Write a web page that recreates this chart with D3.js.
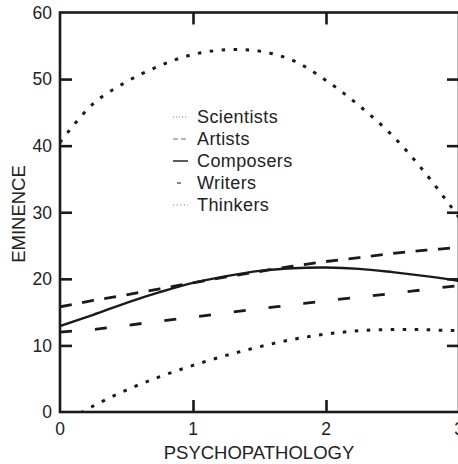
<!DOCTYPE html>
<html>
<head>
<meta charset="utf-8">
<script src="https://cdn.jsdelivr.net/npm/d3@7"></script>
<style>
  body { margin: 0; background: #fff; }
  svg { display: block; font-family: "Liberation Sans", Arial, sans-serif; }
</style>
</head>
<body>
<svg id="chart"></svg>
<script>
// psychopathology values where the curves were read
const xs = [0, 0.25, 0.5, 0.75, 1, 1.25, 1.5, 1.75, 2, 2.25, 2.5, 2.75, 3];

const scientists = [-2.0, 0.9, 3.3, 5.3, 7.0, 8.5, 9.8, 10.9, 11.7, 12.2, 12.4, 12.35, 12.2];
const artists    = [15.8, 16.75, 17.6, 18.5, 19.4, 20.3, 21.1, 21.9, 22.6, 23.2, 23.8, 24.3, 24.7];
const composers  = [12.9, 14.6, 16.4, 18.0, 19.4, 20.4, 21.2, 21.6, 21.7, 21.5, 21.0, 20.4, 19.7];
const writers    = [12.0, 12.4, 13.0, 13.65, 14.25, 14.9, 15.5, 16.1, 16.7, 17.25, 17.8, 18.4, 19.0];
const thinkers   = [40.5, 46.3, 49.6, 52.0, 53.7, 54.4, 54.2, 52.8, 49.8, 46.0, 41.5, 35.8, 29.2];

const legendNames = ["Scientists", "Artists", "Composers", "Writers", "Thinkers"];
const yTicks = [0, 10, 20, 30, 40, 50, 60];
const xTicks = [0, 1, 2, 3];

const width = 458, height = 464;
const mLeft = 60, mRight = 459, mTop = 12.5, mBottom = 412;

const svg = d3.select("#chart")
    .attr("width", width)
    .attr("height", height);

const x = d3.scaleLinear().domain([0, 3]).range([mLeft, mRight]);
const y = d3.scaleLinear().domain([0, 60]).range([mBottom, mTop]);

svg.append("defs").append("clipPath")
    .attr("id", "plot")
    .append("rect")
    .attr("x", mLeft).attr("y", mTop)
    .attr("width", mRight - mLeft).attr("height", mBottom - mTop);

// curve styles: dotted / dashed / solid / long dash / dotted
const series = [
    {name: "Scientists", v: scientists, dash: "3.5,8.5", w: 3},
    {name: "Artists", v: artists, dash: "12,10.5", w: 2.8},
    {name: "Composers", v: composers, dash: null, w: 2.4},
    {name: "Writers", v: writers, dash: "12,23", w: 2.8},
    {name: "Thinkers", v: thinkers, dash: "3.5,8.5", w: 3}
];

const line = d3.line()
    .x((d, i) => x(xs[i]))
    .y(d => y(d))
    .curve(d3.curveCatmullRom.alpha(0.5));

svg.append("g")
    .attr("clip-path", "url(#plot)")
    .selectAll("path")
    .data(series)
    .join("path")
    .attr("fill", "none")
    .attr("stroke", "#1a1a1a")
    .attr("stroke-width", d => d.w)
    .attr("stroke-dasharray", d => d.dash)
    .attr("d", d => line(d.v));

// frame
svg.append("rect")
    .attr("x", mLeft).attr("y", mTop)
    .attr("width", mRight - mLeft).attr("height", mBottom - mTop)
    .attr("fill", "none")
    .attr("stroke", "#1a1a1a")
    .attr("stroke-width", 2.6);

// inward ticks
const yAxisL = d3.axisRight(y).tickValues(yTicks.slice(1, -1)).tickSize(12).tickFormat("");
const yAxisR = d3.axisLeft(y).tickValues(yTicks.slice(1, -1)).tickSize(12).tickFormat("");
const xAxisB = d3.axisTop(x).tickValues(xTicks.slice(1, -1)).tickSize(12).tickFormat("");
const xAxisT = d3.axisBottom(x).tickValues(xTicks.slice(1, -1)).tickSize(12).tickFormat("");

const tickStyle = g => {
    g.select(".domain").remove();
    g.selectAll("line").attr("stroke", "#1a1a1a").attr("stroke-width", 2.6);
};
svg.append("g").attr("transform", `translate(${mLeft},0)`).call(yAxisL).call(tickStyle);
svg.append("g").attr("transform", `translate(${mRight},0)`).call(yAxisR).call(tickStyle);
svg.append("g").attr("transform", `translate(0,${mBottom})`).call(xAxisB).call(tickStyle);
svg.append("g").attr("transform", `translate(0,${mTop})`).call(xAxisT).call(tickStyle);

// tick labels
svg.append("g")
    .selectAll("text")
    .data(yTicks)
    .join("text")
    .attr("x", 52)
    .attr("y", d => y(d))
    .attr("dy", "0.36em")
    .attr("text-anchor", "end")
    .attr("fill", "#222")
    .style("font-size", "17.5px")
    .text(d => d);

// the last label sits at the right edge, as in the original
svg.append("g")
    .selectAll("text")
    .data(xTicks)
    .join("text")
    .attr("x", d => x(d))
    .attr("y", 434.5)
    .attr("text-anchor", "middle")
    .attr("fill", "#222")
    .style("font-size", "17.5px")
    .text(d => d);

// axis titles
svg.append("text")
    .attr("x", 259)
    .attr("y", 459)
    .attr("text-anchor", "middle")
    .attr("fill", "#222")
    .style("font-size", "18.5px")
    .text("PSYCHOPATHOLOGY");

svg.append("text")
    .attr("transform", "translate(25,214) rotate(-90)")
    .attr("text-anchor", "middle")
    .attr("fill", "#222")
    .style("font-size", "18.5px")
    .text("EMINENCE");

// legend
const swatch = [
    {dash: "1.2,1.8", stroke: "#aaa", x1: 173, x2: 188},
    {dash: "5,3", stroke: "#999", x1: 173, x2: 188},
    {dash: null, stroke: "#333", x1: 173, x2: 188},
    {dash: null, stroke: "#666", x1: 177, x2: 181},
    {dash: "1.2,2.4", stroke: "#aaa", x1: 173, x2: 188}
];

const legend = svg.append("g")
    .selectAll("g")
    .data(legendNames)
    .join("g")
    .attr("transform", (d, i) => `translate(0,${117 + i * 22})`);

legend.append("line")
    .attr("x1", (d, i) => swatch[i].x1)
    .attr("x2", (d, i) => swatch[i].x2)
    .attr("stroke", (d, i) => swatch[i].stroke)
    .attr("stroke-width", 1.6)
    .attr("stroke-dasharray", (d, i) => swatch[i].dash);

legend.append("text")
    .attr("x", 197)
    .attr("dy", "0.36em")
    .attr("fill", "#222")
    .style("font-size", "18px")
    .style("letter-spacing", "0.4px")
    .text(d => d);
</script>
</body>
</html>
